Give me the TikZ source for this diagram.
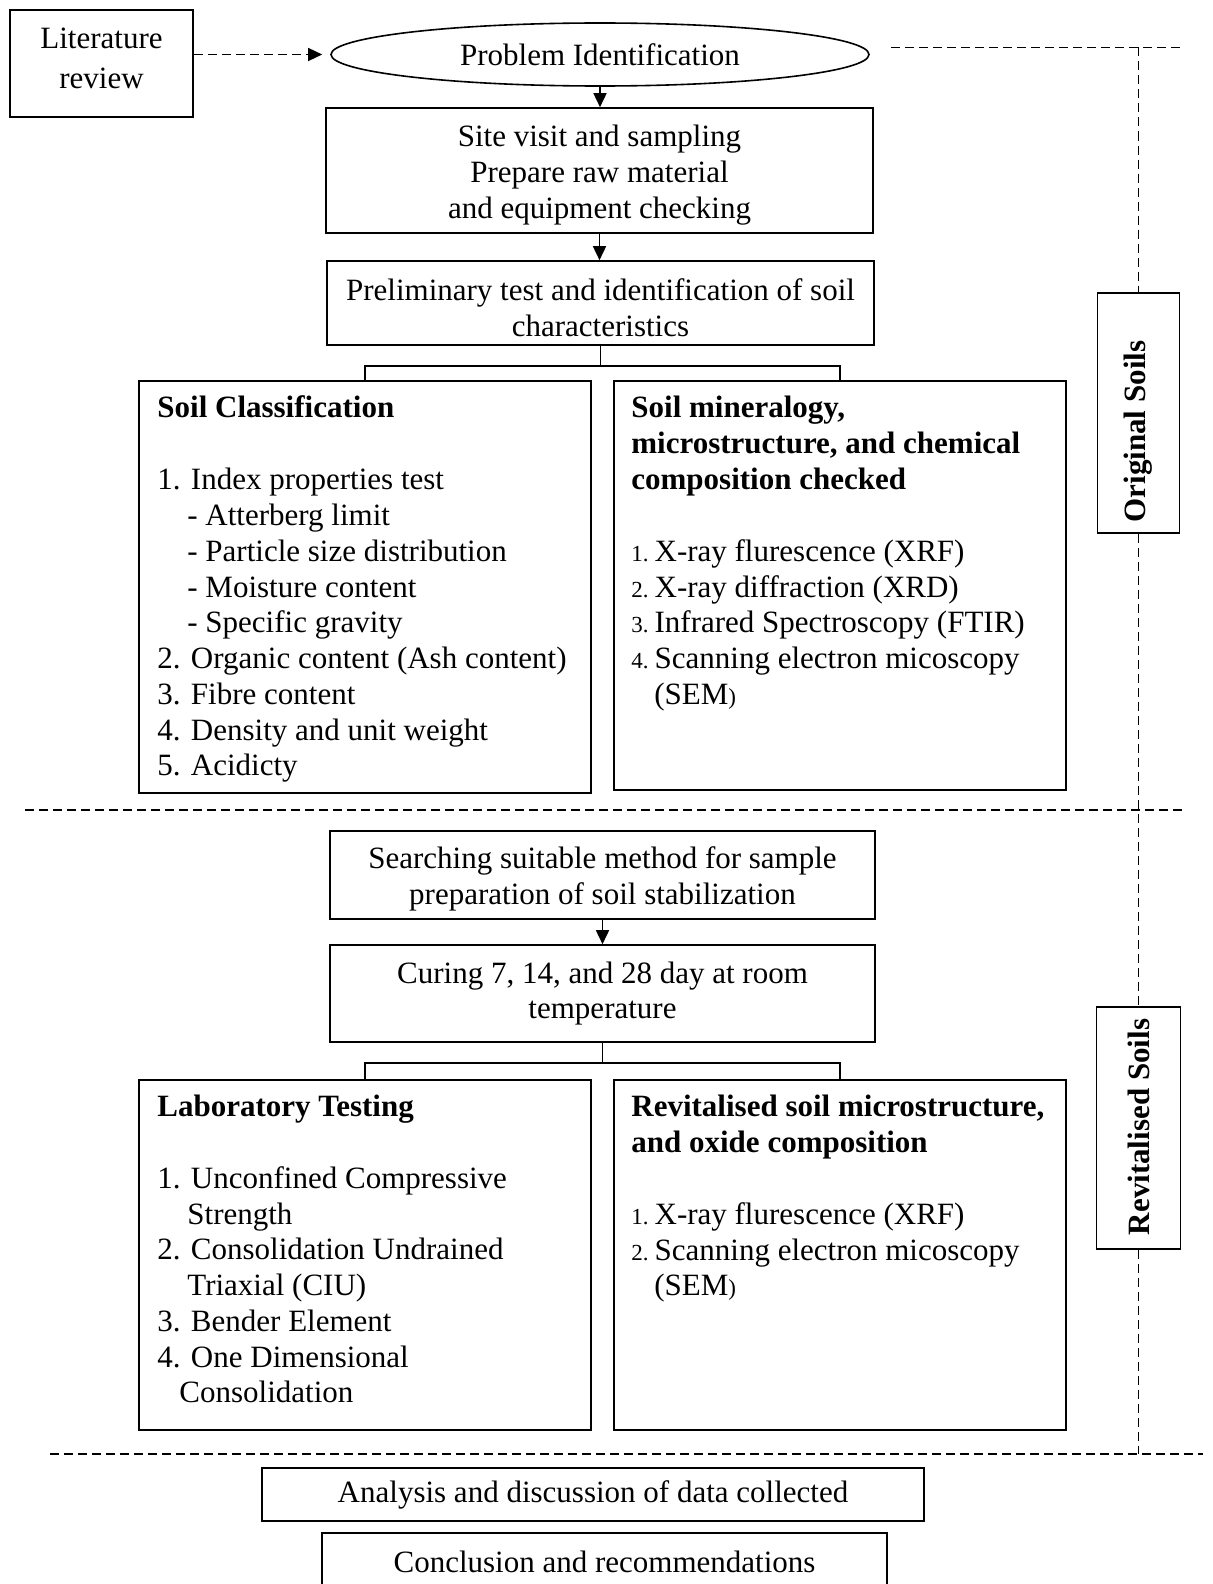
\documentclass[tikz,border=0pt]{standalone}
\usepackage{fontspec}
\setmainfont{Liberation Serif}
\usetikzlibrary{arrows.meta,shapes.geometric}
\newcommand\basefont{\fontsize{15.5}{17.9}\selectfont}
\newcommand\smallnum{\fontsize{11.5}{14}\selectfont}
\begin{document}
\begin{tikzpicture}[x=0.5pt,y=-0.5pt,
  every node/.style={font=\basefont},
  box/.style={draw, line width=0.8pt, inner sep=0pt, align=center},
  ctxt/.style={align=center, inner sep=0pt, font=\fontsize{15.5}{18.2}\selectfont},
  txt/.style={anchor=base west, inner sep=0pt},
  hd/.style={anchor=base west, inner sep=0pt, font=\basefont\bfseries},
  vtxt/.style={rotate=90, inner sep=0pt, font=\basefont\bfseries},
  arr/.style={line width=0.8pt, -{Triangle[length=7pt,width=6.5pt]}},
  dline/.style={line width=0.7pt, dash pattern=on 4.5pt off 2.5pt},
  link/.style={line width=0.8pt}]
\useasboundingbox (0,0) rectangle (1213,1584);

% top part
\node[box, minimum width=91.5pt, minimum height=53.5pt] (lit) at (101.5,63.5) {};
\node[align=center, inner sep=0pt, font=\fontsize{15.5}{20}\selectfont] (littxt) at (101.5,58) {Literature\\review};
\node[box, ellipse, minimum width=269pt, minimum height=31.5pt] (prob) at (600,54.5) {Problem Identification};
\node[box, minimum width=273.5pt, minimum height=62.5pt] (site) at (599.5,170.5) {};
\node[ctxt] (sitetxt) at (599.5,175) {Site visit and sampling\\Prepare raw material\\and equipment checking};
\node[box, minimum width=273.5pt, minimum height=42pt] (prel) at (600.5,303) {};
\node[ctxt] (preltxt) at (600.5,308) {Preliminary test and identification of soil\\characteristics};

% original soils boxes
\node[box, minimum width=226pt, minimum height=206pt] (sc) at (365,587) {};
\node[box, minimum width=226pt, minimum height=204.5pt] (mi) at (840,585.5) {};
\node[box, minimum width=41pt, minimum height=120pt] (os) at (1138.5,413) {};
\node[vtxt] (ostxt) at (1138.5,431.5) {Original Soils};

\node[hd] (sc0) at (157,417.5) {Soil Classification};
\node[txt] (sc1) at (157,489) {1. Index properties test};
\node[txt] (sc2) at (187,525) {- Atterberg limit};
\node[txt] (sc3) at (187,561) {- Particle size distribution};
\node[txt] (sc4) at (187,597) {- Moisture content};
\node[txt] (sc5) at (187,632.5) {- Specific gravity};
\node[txt] (sc6) at (157,668.5) {2. Organic content (Ash content)};
\node[txt] (sc7) at (157,704) {3. Fibre content};
\node[txt] (sc8) at (157,740) {4. Density and unit weight};
\node[txt] (sc9) at (157,775.5) {5. Acidicty};

\node[hd] (mi0) at (631,417.5) {Soil mineralogy,};
\node[hd] (mi1) at (631,453.5) {microstructure, and chemical};
\node[hd] (mi2) at (631,489) {composition checked};
\node[txt] (mi3) at (631,561) {{\smallnum 1.}\hspace{3pt}X-ray flurescence (XRF)};
\node[txt] (mi4) at (631,597) {{\smallnum 2.}\hspace{3pt}X-ray diffraction (XRD)};
\node[txt] (mi5) at (631,632.5) {{\smallnum 3.}\hspace{3pt}Infrared Spectroscopy (FTIR)};
\node[txt] (mi6) at (631,668.5) {{\smallnum 4.}\hspace{3pt}Scanning electron micoscopy};
\node[txt] (mi7) at (654,704) {(SEM{\smallnum )}};

% revitalised part
\node[box, minimum width=272.5pt, minimum height=44pt] (srch) at (602.5,875) {};
\node[ctxt] (srchtxt) at (602.5,879) {Searching suitable method for sample\\preparation of soil stabilization};
\node[box, minimum width=272.5pt, minimum height=48.5pt] (cure) at (602.5,993.5) {Curing 7, 14, and 28 day at room\\temperature};
\node[box, minimum width=226pt, minimum height=175pt] (lab) at (365,1255) {};
\node[box, minimum width=226pt, minimum height=175pt] (rv) at (840,1255) {};
\node[box, minimum width=42pt, minimum height=121pt] (rs) at (1138.5,1128) {};
\node[vtxt] (rstxt) at (1138.5,1127) {Revitalised Soils};

\node[hd] (lb0) at (157,1116.5) {Laboratory Testing};
\node[txt] (lb1) at (157,1188) {1. Unconfined Compressive};
\node[txt] (lb2) at (187,1224) {Strength};
\node[txt] (lb3) at (157,1259.5) {2. Consolidation Undrained};
\node[txt] (lb4) at (187,1295) {Triaxial (CIU)};
\node[txt] (lb5) at (157,1331) {3. Bender Element};
\node[txt] (lb6) at (157,1367) {4. One Dimensional};
\node[txt] (lb7) at (179,1402.5) {Consolidation};

\node[hd] (rv0) at (631,1116.5) {Revitalised soil microstructure,};
\node[hd] (rv1) at (631,1152) {and oxide composition};
\node[txt] (rv2) at (631,1224) {{\smallnum 1.}\hspace{3pt}X-ray flurescence (XRF)};
\node[txt] (rv3) at (631,1260) {{\smallnum 2.}\hspace{3pt}Scanning electron micoscopy};
\node[txt] (rv4) at (654,1295.5) {(SEM{\smallnum )}};

% bottom
\node[box, minimum width=331pt, minimum height=26.5pt] (ana) at (593,1494.5) {Analysis and discussion of data collected};
\node[box, minimum width=282.5pt, minimum height=28.5pt] (conc) at (604.5,1561.5) {Conclusion and recommendations};

% connectors
\draw[dline, -{Triangle[length=7pt,width=6.5pt]}, shorten >=4pt] (lit.east |- prob.west) -- (prob.west);
\draw[arr] (prob.south) -- (prob.south |- site.north);
\draw[arr] (site.south) -- (site.south |- prel.north);
\coordinate (j1) at (600.5,366);
\draw[link] (prel.south) -- (prel.south |- j1);
\draw[link] (sc.north) -- (sc.north |- j1) -- (mi.north |- j1) -- (mi.north);
\draw[arr] (srch.south) -- (cure.north);
\coordinate (j2) at (602.5,1063);
\draw[link] (cure.south) -- (cure.south |- j2);
\draw[link] (lab.north) -- (lab.north |- j2) -- (rv.north |- j2) -- (rv.north);

% dashed section lines
\coordinate (d1a) at (891,47.5);
\coordinate (d1b) at (1184,47.5);
\draw[dline] (d1a) -- (d1b);
\draw[dline] (os.north |- d1a) -- (os.north);
\draw[dline] (os.south) -- (rs.north);
\coordinate (d2a) at (25,810);
\coordinate (d2b) at (1182,810);
\draw[dline] (d2a) -- (d2b);
\coordinate (d3a) at (50,1454);
\coordinate (d3b) at (1203,1454);
\draw[dline] (d3a) -- (d3b);
\draw[dline] (rs.south) -- (rs.south |- d3a);
\end{tikzpicture}
\end{document}
